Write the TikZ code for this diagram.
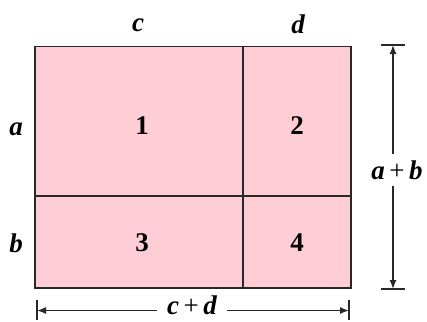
\documentclass[tikz,border=0pt]{standalone}
\usepackage{fontspec}
\setmainfont{Liberation Serif}
\usetikzlibrary{arrows.meta}
\definecolor{boxpink}{RGB}{255,205,214}
\definecolor{edge}{RGB}{40,40,40}
\newcommand{\plusop}{\,\textup{\mdseries+}\,}
\tikzset{
  lab/.style={font=\fontsize{27}{31}\selectfont\bfseries\itshape, inner sep=1pt},
  num/.style={font=\fontsize{27}{31}\selectfont\bfseries, inner sep=1pt},
  dim/.style={line width=1.3pt, draw=edge, -{Latex[length=9pt,width=7pt]}},
  barline/.style={line width=1.5pt, draw=edge},
  cell/.style={fill=boxpink, draw=edge, line width=1.6pt}
}
\begin{document}
\begin{tikzpicture}[x=1pt,y=-1pt]
\useasboundingbox (0,0) rectangle (427,321);
\draw[cell] (35,46.5) rectangle (351,288);
\draw[line width=1.6pt, draw=edge] (243,46.5) -- (243,288);
\draw[line width=1.6pt, draw=edge] (35,196) -- (351,196);
\node[lab] (c) at (138,25) {c};
\node[lab] (d) at (298,24) {d};
\node[lab] (a) at (16,129) {a};
\node[lab] (b) at (16,243) {b};
\node[num] (n1) at (142,126) {1};
\node[num] (n2) at (297,126) {2};
\node[num] (n3) at (142,243) {3};
\node[num] (n4) at (297,243) {4};
% vertical dimension
\coordinate (vt) at (393,45);
\coordinate (vb) at (393,289);
\draw[barline] (381,45) -- (405,45);
\draw[barline] (381,289) -- (405,289);
\node[lab, inner ysep=6pt, inner xsep=1pt] (ab) at (397,170) {a\plusop b};
\draw[dim] (ab.north -| vt) -- (vt);
\draw[dim] (ab.south -| vb) -- (vb);
% horizontal dimension
\coordinate (hl) at (37,310.5);
\coordinate (hr) at (349,310.5);
\draw[barline] (37,300) -- (37,320);
\draw[barline] (349,300) -- (349,320);
\node[lab, inner xsep=10pt, inner ysep=0pt, text depth=0pt] (cd) at (192,305.5) {c\plusop d};
\draw[dim] (cd.west |- hl) -- (hl);
\draw[dim] (cd.east |- hr) -- (hr);
\end{tikzpicture}
\end{document}
